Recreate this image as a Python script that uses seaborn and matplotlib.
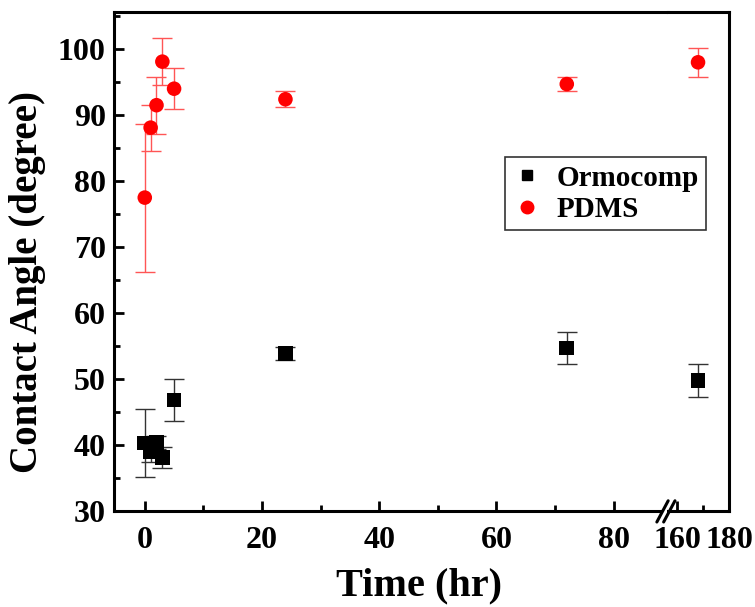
import matplotlib
matplotlib.use('Agg')
import matplotlib.pyplot as plt
import seaborn as sns
import pandas as pd
from matplotlib.lines import Line2D
from matplotlib.ticker import MultipleLocator

time_hr = [0, 1, 2, 3, 5, 24, 72, 168]
ormo_angle = [40.3, 39.0, 40.4, 38.1, 46.8, 53.9, 54.7, 49.8]
ormo_err = [5.1, 1.5, 1.0, 1.6, 3.2, 0.95, 2.4, 2.5]
pdms_angle = [77.5, 88.1, 91.5, 98.1, 94.0, 92.4, 94.7, 98.0]
pdms_err = [11.2, 3.5, 4.3, 3.6, 3.1, 1.2, 1.0, 2.2]

sns.set_style('ticks')
plt.rcParams['font.family'] = ['Liberation Serif', 'DejaVu Serif']
plt.rcParams['font.weight'] = 'bold'
for key in ['text.color', 'axes.labelcolor', 'xtick.color', 'ytick.color', 'axes.edgecolor']:
    plt.rcParams[key] = 'black'

df = pd.DataFrame({
    'time': time_hr * 2,
    'angle': ormo_angle + pdms_angle,
    'sample': ['Ormocomp'] * len(time_hr) + ['PDMS'] * len(time_hr),
})

fig = plt.figure(figsize=(7.55, 6.07), dpi=100)
ax1 = fig.add_axes([0.151, 0.158, 0.734, 0.822])
ax2 = fig.add_axes([0.885, 0.158, 0.0808, 0.822], sharey=ax1)

for ax in (ax1, ax2):
    ax.errorbar(time_hr, ormo_angle, yerr=ormo_err, fmt='none', ecolor='#333333',
                elinewidth=1, capsize=7, capthick=1, zorder=2)
    ax.errorbar(time_hr, pdms_angle, yerr=pdms_err, fmt='none', ecolor='#ff5555',
                elinewidth=1, capsize=7, capthick=1, zorder=2)
    sns.scatterplot(data=df, x='time', y='angle', hue='sample', style='sample',
                    palette={'Ormocomp': 'black', 'PDMS': 'red'},
                    markers={'Ormocomp': 's', 'PDMS': 'o'},
                    s=110, edgecolor='none', legend=False, ax=ax, zorder=3)
    ax.set_xlabel('')
    ax.set_ylabel('')
    for sp in ax.spines.values():
        sp.set_linewidth(2.2)
    ax.tick_params(axis='both', which='major', direction='in', length=7, width=2,
                   labelsize=23)
    ax.tick_params(axis='both', which='minor', direction='in', length=4, width=2)

ax1.set_xlim(-5.25, 89.3)
ax2.set_xlim(156.5, 180)
ax1.set_ylim(30, 105.6)

ax1.xaxis.set_major_locator(MultipleLocator(20))
ax1.xaxis.set_minor_locator(MultipleLocator(10))
ax1.yaxis.set_major_locator(MultipleLocator(10))
ax1.yaxis.set_minor_locator(MultipleLocator(5))
ax2.set_xticks([160, 180])
ax2.set_xticks([170], minor=True)

ax1.spines['right'].set_visible(False)
ax2.spines['left'].set_visible(False)
ax2.tick_params(axis='y', which='both', left=False, labelleft=False)
ax1.tick_params(axis='x', pad=11)
ax2.tick_params(axis='x', pad=11)
ax1.tick_params(axis='y', pad=6)

fig.text(0.037, 0.535, 'Contact Angle (degree)', rotation=90, ha='center', va='center',
         fontsize=28, fontweight='bold')
fig.text(0.555, 0.035, 'Time (hr)', ha='center', va='center',
         fontsize=29, fontweight='bold')

# axis break marks
for dx in (0, 0.009):
    fig.add_artist(Line2D([0.870 + dx, 0.885 + dx], [0.140, 0.175], color='black',
                          lw=2.2, transform=fig.transFigure, zorder=10))
fig.add_artist(plt.Rectangle((0.877, 0.150), 0.006, 0.016, transform=fig.transFigure,
                             facecolor='white', edgecolor='none', zorder=9))

handles = [
    Line2D([], [], marker='s', color='black', linestyle='none', markersize=7),
    Line2D([], [], marker='o', color='red', linestyle='none', markersize=9),
]
leg = fig.legend(handles, ['Ormocomp', 'PDMS'], loc='upper left',
                 bbox_to_anchor=(0.669, 0.741), borderaxespad=0, frameon=True,
                 fancybox=False, prop={'size': 21, 'weight': 'bold'},
                 handletextpad=0.5, borderpad=0.25, labelspacing=0.15,
                 handlelength=1.0)
leg.get_frame().set_edgecolor('black')
leg.get_frame().set_linewidth(1.2)
leg.set_zorder(20)

fig.savefig('out.png', dpi=100)
